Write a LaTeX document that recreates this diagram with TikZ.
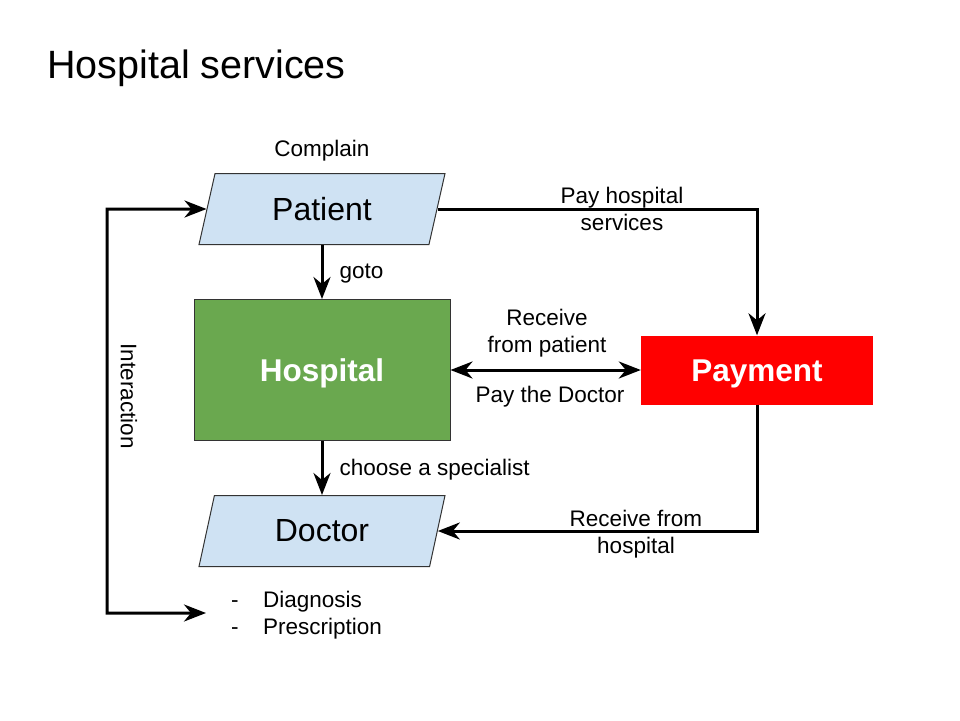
\documentclass[tikz,border=0pt]{standalone}
\usepackage{fontspec}
\setmainfont{Liberation Sans}
\usetikzlibrary{shapes.geometric,arrows.meta,positioning}

\definecolor{boxblue}{HTML}{CFE2F3}
\definecolor{boxgreen}{HTML}{6AA84F}
\definecolor{boxred}{HTML}{FF0000}

\begin{document}
\begin{tikzpicture}[x=1pt, y=-1pt,
    >={Stealth[length=22pt, width=17pt, inset=7pt]},
    para/.style={draw=black!80, fill=boxblue, line width=1pt, trapezium,
      trapezium left angle=62, trapezium right angle=118, trapezium stretches body,
      minimum width=246pt, minimum height=71pt, font=\fontsize{32}{38}\selectfont},
    block/.style={font=\fontsize{31.5}{38}\selectfont\bfseries, text=white,
      text height=22pt, text depth=0pt},
    lbl/.style={font=\fontsize{22.5}{27}\selectfont, align=center, inner sep=2pt},
    arr/.style={line width=3pt, ->}]
  \useasboundingbox[fill=white] (0,0) rectangle (960,720);

  \node[anchor=base west, inner sep=0pt, font=\fontsize{39.5}{46}\selectfont] (title) at (47,78) {Hospital services};

  % boxes
  \node[para] (patient) at (322,209) {Patient};
  \node[block, fill=boxgreen, draw=black!80, line width=1pt, minimum width=256pt, minimum height=141pt] (hospital) at (322,370) {Hospital};
  \node[para] (doctor) at (322,531) {Doctor};
  \node[block, fill=boxred, minimum width=232pt, minimum height=69pt] (payment) at (757,370) {Payment};

  \node[lbl] (complain) at (322,151) {Complain};
  \node[lbl, align=left, anchor=west, inner sep=0pt] (list) at (231,615) {\makebox[32pt][l]{-}Diagnosis\\\makebox[32pt][l]{-}Prescription};
  \coordinate (listin) at (206,613);

  % connectors
  \draw[arr] (patient) -- node[lbl, right=14pt, yshift=-2pt] (goto) {goto} (hospital);
  \draw[arr] (hospital) -- node[lbl, right=14pt, yshift=-2pt] (choose) {choose a specialist} (doctor);
  \draw[arr] (patient.east) -| (payment.north);
  \draw[arr, <->] (hospital) -- (payment);
  \draw[arr] (payment.south) |- (doctor.east);
  \draw[arr, <->] (patient.west) -- (107,209) |- (listin);

  \node[lbl] (payhosp) at (622,209) {Pay hospital\\services};
  \node[lbl] (recpat) at (547,333) {Receive\\from patient};
  \node[lbl] (paydoc) at (550,397) {Pay the Doctor};
  \node[lbl] (rechosp) at (636,534) {Receive from\\hospital};
  \node[lbl, rotate=-90] (interaction) at (129,396) {Interaction};
\end{tikzpicture}
\end{document}
